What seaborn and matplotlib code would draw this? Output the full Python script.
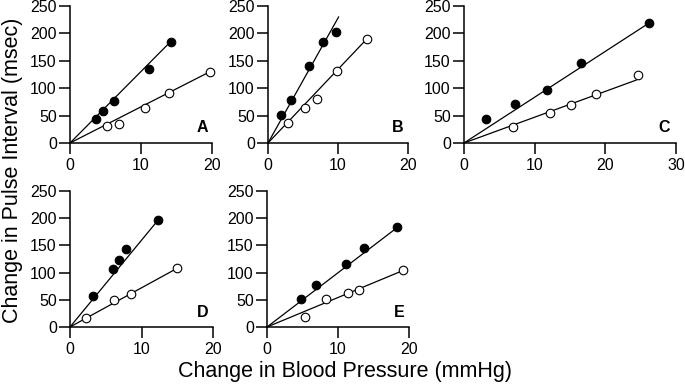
import matplotlib
matplotlib.use("Agg")
import matplotlib.pyplot as plt
import seaborn as sns
import pandas as pd

# ---- data ----
panels = ["A", "B", "C", "D", "E"]

filled_x = {
    "A": [3.6, 4.6, 6.2, 11.1, 14.2],
    "B": [1.9, 3.3, 5.9, 7.8, 9.7],
    "C": [3.1, 7.2, 11.8, 16.5, 26.2],
    "D": [3.2, 6.0, 6.9, 7.8, 12.3],
    "E": [4.8, 6.9, 11.1, 13.6, 18.3],
}
filled_y = {
    "A": [44, 59, 76, 135, 185],
    "B": [51, 78, 140, 185, 202],
    "C": [44, 71, 97, 146, 219],
    "D": [57, 107, 124, 144, 196],
    "E": [52, 78, 115, 146, 183],
}
open_x = {
    "A": [5.2, 6.9, 10.5, 14.0, 19.7],
    "B": [2.8, 5.3, 7.0, 9.8, 14.1],
    "C": [6.9, 12.1, 15.2, 18.7, 24.6],
    "D": [2.2, 6.2, 8.5, 15.0],
    "E": [5.3, 8.3, 11.4, 12.9, 19.1],
}
open_y = {
    "A": [31, 35, 63, 92, 130],
    "B": [36, 64, 80, 131, 189],
    "C": [29, 54, 69, 90, 124],
    "D": [17, 49, 61, 108],
    "E": [19, 51, 62, 68, 104],
}
# fitted slopes (msec per mmHg) of the lines through the origin
filled_slope = {"A": 13.05, "B": 22.8, "C": 8.36, "D": 15.95, "E": 9.97}
open_slope = {"A": 6.6, "B": 13.45, "C": 4.71, "D": 7.2, "E": 5.42}
filled_end = {"A": 14.2, "B": 10.1, "C": 26.2, "D": 12.3, "E": 18.3}
open_end = {"A": 19.7, "B": 14.1, "C": 24.4, "D": 15.0, "E": 19.1}

x_max = {"A": 20, "B": 20, "C": 30, "D": 20, "E": 20}
x_ticks = {"A": [0, 10, 20], "B": [0, 10, 20], "C": [0, 10, 20, 30],
           "D": [0, 10, 20], "E": [0, 10, 20]}
y_ticks = [0, 50, 100, 150, 200, 250]

xlabel = "Change in Blood Pressure (mmHg)"
ylabel = "Change in Pulse Interval (msec)"

# ---- figure ----
sns.set_theme(style="ticks")
plt.rcParams["font.family"] = ["Liberation Sans", "DejaVu Sans"]

W, H = 685, 387
fig = plt.figure(figsize=(W / 100, H / 100), dpi=100)

# axes boxes in pixels: left, top(y=250), right(x=max), bottom(y=0)
boxes = {
    "A": (70, 6, 212, 143),
    "B": (268, 6, 408, 143),
    "C": (464, 6, 676, 143),
    "D": (70, 191, 213, 327),
    "E": (267, 191, 409, 327),
}

for p in panels:
    l, t, r, b = boxes[p]
    ax = fig.add_axes([l / W, 1 - b / H, (r - l) / W, (b - t) / H])

    fl = pd.DataFrame({"x": [0, filled_end[p]],
                       "y": [0, filled_slope[p] * filled_end[p]]})
    ol = pd.DataFrame({"x": [0, open_end[p]],
                       "y": [0, open_slope[p] * open_end[p]]})
    sns.lineplot(data=fl, x="x", y="y", ax=ax, color="black", lw=0.9, zorder=2)
    sns.lineplot(data=ol, x="x", y="y", ax=ax, color="black", lw=0.9, zorder=2)

    fd = pd.DataFrame({"x": filled_x[p], "y": filled_y[p]})
    od = pd.DataFrame({"x": open_x[p], "y": open_y[p]})
    sns.scatterplot(data=fd, x="x", y="y", ax=ax, color="black", marker="o",
                    s=38, edgecolor="black", linewidth=0.8, zorder=3, clip_on=False)
    sns.scatterplot(data=od, x="x", y="y", ax=ax, color="white", marker="o",
                    s=38, edgecolor="black", linewidth=0.8, zorder=3, clip_on=False)

    ax.set_xlim(0, x_max[p])
    ax.set_ylim(0, 250)
    ax.set_xticks(x_ticks[p])
    ax.set_yticks(y_ticks)
    ax.set_xlabel("")
    ax.set_ylabel("")
    sns.despine(ax=ax)
    for s in ("left", "bottom"):
        ax.spines[s].set_linewidth(1.1)
        ax.spines[s].set_color("black")
    ax.tick_params(axis="both", length=8, width=1.1, labelsize=11.5, colors="black")
    ax.tick_params(axis="x", pad=2.5)
    ax.tick_params(axis="y", pad=1.5)
    ax.text(0.97, 0.11, p, transform=ax.transAxes, ha="right", va="center",
            fontsize=11.5, fontweight="bold", color="black")

fig.text(345 / W, 1 - 371 / H, xlabel, ha="center", va="center",
         fontsize=15.5, color="black")
fig.text(13 / W, 1 - 170 / H, ylabel, ha="center", va="center",
         rotation=90, fontsize=15.5, color="black")

fig.savefig("out.png", dpi=100, facecolor="white")
